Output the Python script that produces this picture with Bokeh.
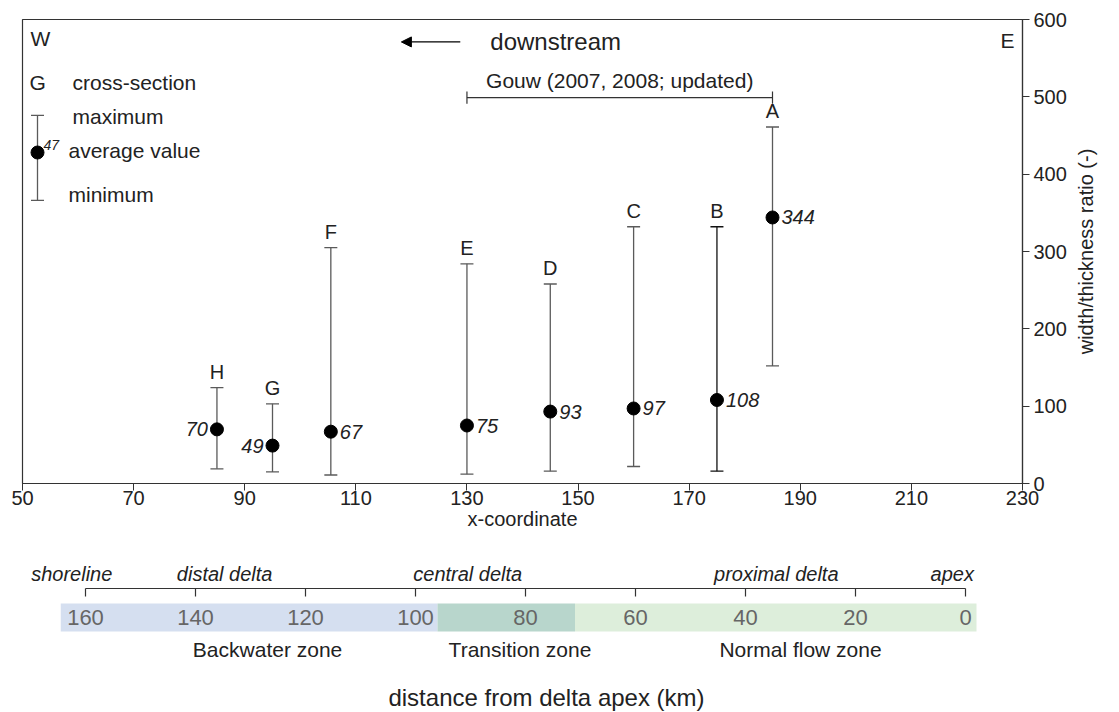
import math
from bokeh.plotting import figure
from bokeh.models import Range1d, FixedTicker, Label, Arrow, NormalHead, ColumnDataSource
from bokeh.layouts import column, row
from bokeh.embed import file_html
from bokeh.resources import INLINE
from bokeh.core.properties import value

# ---- cross-section data: width/thickness ratio per cross-section ----
sections = ["H", "G", "F", "E", "D", "C", "B", "A"]
x_coord = [85, 95, 105.5, 130, 145, 160, 175, 185]
wt_mean = [70, 49, 67, 75, 93, 97, 108, 344]
wt_max = [124, 103, 305, 284, 258, 332, 332, 461]
wt_min = [19, 15, 11, 12, 16, 22, 16, 152]
bar_colors = ["#5a5a5a", "#5a5a5a", "#5a5a5a", "#5a5a5a", "#5a5a5a", "#5a5a5a", "#111111", "#5a5a5a"]
mean_label_left = [True, True, False, False, False, False, False, False]

x_ticks = [50, 70, 90, 110, 130, 150, 170, 190, 210, 230]
y_ticks = [0, 100, 200, 300, 400, 500, 600]

# ---- distance from the delta apex ----
km_ticks = [160, 140, 120, 100, 80, 60, 40, 20, 0]
zone_names = ["Backwater zone", "Transition zone", "Normal flow zone"]
zone_start_km = [164.5, 96, 71]
zone_end_km = [96, 71, -2]
zone_label_km = [126.9, 81, 30]
zone_colors = ["#d5dff0", "#b8d6cc", "#ddeedb"]
reach_names = ["shoreline", "distal delta", "central delta", "proximal delta", "apex"]
reach_km = [162.5, 134.7, 90.5, 34.4, 2.4]

FONT = "Liberation Sans"
INK = "#222222"
AXIS = "#333333"
TOP, FRAME_H, BOTTOM = 19, 464, 60

# ------------------------------------------------------------------
p = figure(frame_width=1000, frame_height=FRAME_H, min_border_left=22, min_border_right=48,
           min_border_top=TOP, min_border_bottom=BOTTOM, x_range=Range1d(50, 230),
           y_range=Range1d(0, 600), y_axis_location="right",
           output_backend="svg", toolbar_location=None)
p.grid.visible = False
p.outline_line_color = AXIS
p.outline_line_width = 1.2
p.background_fill_color = "white"
p.border_fill_color = "white"

for ax in (p.xaxis[0], p.yaxis[0]):
    ax.axis_line_color = AXIS
    ax.axis_line_width = 1.2
    ax.major_tick_line_color = AXIS
    ax.major_tick_out = 7
    ax.major_tick_in = 0
    ax.minor_tick_line_color = None
    ax.major_label_text_font = FONT
    ax.major_label_text_font_size = "20px"
    ax.major_label_text_color = INK
    ax.axis_label_text_font = FONT
    ax.axis_label_text_font_size = "20px"
    ax.axis_label_text_font_style = "normal"
    ax.axis_label_text_color = INK

p.xaxis.ticker = FixedTicker(ticks=x_ticks)
p.yaxis.ticker = FixedTicker(ticks=y_ticks)
p.xaxis.axis_label = "x-coordinate"
p.xaxis.major_label_standoff = 0
p.xaxis.axis_label_standoff = 0
p.yaxis.major_label_standoff = 4

src = ColumnDataSource(dict(x=x_coord, mean=wt_mean, hi=wt_max, lo=wt_min,
                            name=sections, color=bar_colors))

# error bars with caps
p.segment(x0="x", y0="lo", x1="x", y1="hi", source=src, line_color="color", line_width=1.3)
p.scatter(x="x", y="hi", source=src, marker="dash", size=13, line_color="color", line_width=1.3)
p.scatter(x="x", y="lo", source=src, marker="dash", size=13, line_color="color", line_width=1.3)
p.scatter(x="x", y="mean", source=src, marker="circle", size=13, fill_color="black", line_color="black")

# section letters above each bar
p.text(x="x", y="hi", text="name", source=src, text_align="center", text_baseline="bottom",
       y_offset=-5, text_font=value(FONT), text_font_size="20px", text_color=INK)

# italic mean values beside the dots
left_idx = [i for i, f in enumerate(mean_label_left) if f]
right_idx = [i for i, f in enumerate(mean_label_left) if not f]
for idx, align, off in ((left_idx, "right", -9), (right_idx, "left", 9)):
    p.text(x=[x_coord[i] for i in idx], y=[wt_mean[i] for i in idx],
           text=[str(wt_mean[i]) for i in idx], text_align=align, text_baseline="middle",
           x_offset=off, text_font=value(FONT), text_font_size="20px",
           text_font_style="italic", text_color=INK)

# compass labels
p.add_layout(Label(x=50, y=600, x_offset=8, y_offset=-7, text="W", text_baseline="top",
                   text_font=FONT, text_font_size="21px", text_color=INK))
p.add_layout(Label(x=230, y=600, x_offset=-8, y_offset=-9, text="E", text_align="right",
                   text_baseline="top", text_font=FONT, text_font_size="21px", text_color=INK))

# downstream arrow
p.add_layout(Arrow(end=NormalHead(size=10, fill_color="black", line_color="black"),
                   x_start=128.8, y_start=571, x_end=118.2, y_end=571,
                   line_color="black", line_width=1.3))
p.add_layout(Label(x=134.2, y=571, text="downstream", text_baseline="middle",
                   text_font=FONT, text_font_size="24px", text_color=INK))

# bracket for the sections from Gouw
gx0, gx1 = x_coord[sections.index("E")], x_coord[sections.index("A")]
p.segment(x0=[gx0], y0=[499], x1=[gx1], y1=[499], line_color=AXIS, line_width=1.2)
p.segment(x0=[gx0, gx1], y0=[491, 491], x1=[gx0, gx1], y1=[507, 507], line_color=AXIS, line_width=1.2)
p.add_layout(Label(x=(gx0 + gx1) / 2, y=506, text="Gouw (2007, 2008; updated)",
                   text_align="center", text_baseline="bottom",
                   text_font=FONT, text_font_size="21px", text_color=INK))

# key to the symbols
kx = 52.7
p.segment(x0=[kx], y0=[366], x1=[kx], y1=[476], line_color="#5a5a5a", line_width=1.3)
p.scatter(x=[kx, kx], y=[366, 476], marker="dash", size=13, line_color="#5a5a5a", line_width=1.3)
p.scatter(x=[kx], y=[428], marker="circle", size=13, fill_color="black", line_color="black")
key_font = dict(text_font=FONT, text_font_size="21px", text_color=INK, text_baseline="middle")
p.add_layout(Label(x=kx, y=518, x_offset=-8, text="G", **key_font))
p.add_layout(Label(x=kx, y=518, x_offset=35, text="cross-section", **key_font))
p.add_layout(Label(x=kx, y=474, x_offset=35, text="maximum", **key_font))
p.add_layout(Label(x=kx, y=430, x_offset=31, text="average value", **key_font))
p.add_layout(Label(x=kx, y=374, x_offset=31, text="minimum", **key_font))
p.add_layout(Label(x=kx, y=428, x_offset=6, y_offset=8, text="47", text_font=FONT,
                   text_font_size="14px", text_font_style="italic", text_color=INK,
                   text_baseline="middle"))

# ------------------------------------------------------------------
# narrow strip holding the right-hand axis title, reading bottom to top
p3 = figure(frame_width=49, frame_height=FRAME_H, min_border_left=0, min_border_right=0,
            min_border_top=TOP, min_border_bottom=BOTTOM, x_range=Range1d(0, 49),
            y_range=p.y_range, output_backend="svg", toolbar_location=None)
p3.axis.visible = False
p3.grid.visible = False
p3.outline_line_color = None
p3.border_fill_color = "white"
p3.text(x=[15], y=[300], text=["width/thickness ratio (-)"], angle=math.pi / 2,
        text_align="center", text_baseline="middle", text_font=value(FONT),
        text_font_size="20px", text_color=INK)

# ------------------------------------------------------------------
# distance scale below, in km from the apex (same pixel scale, reversed)
PX_PER_KM = 5.5
km_left = 160 + (85 - 22) / PX_PER_KM
km_right = km_left - 1000 / PX_PER_KM
p2 = figure(frame_width=1000, frame_height=712 - 543, min_border_left=22, min_border_right=97,
            min_border_top=0, min_border_bottom=0, x_range=Range1d(km_left, km_right),
            y_range=Range1d(712, 543), output_backend="svg", toolbar_location=None)
p2.axis.visible = False
p2.grid.visible = False
p2.outline_line_color = None
p2.border_fill_color = "white"

# zone bands
p2.quad(left=zone_start_km, right=zone_end_km, top=603, bottom=631,
        fill_color=zone_colors, line_color=None)
p2.text(x=km_ticks, y=[617] * len(km_ticks), text=[str(k) for k in km_ticks],
        text_align="center", text_baseline="middle", text_font=value(FONT),
        text_font_size="22px", text_color="#666666")

# scale line with ticks
p2.segment(x0=[km_ticks[0]], y0=[588], x1=[km_ticks[-1]], y1=[588], line_color=AXIS, line_width=1.2)
p2.segment(x0=km_ticks, y0=[588] * len(km_ticks), x1=km_ticks, y1=[596] * len(km_ticks),
           line_color=AXIS, line_width=1.2)

# reach names
p2.text(x=reach_km, y=[573] * len(reach_km), text=reach_names, text_align="center",
        text_baseline="middle", text_font=value(FONT), text_font_size="20px",
        text_font_style="italic", text_color=INK)

# zone names
p2.text(x=zone_label_km, y=[649] * len(zone_label_km), text=zone_names, text_align="center",
        text_baseline="middle", text_font=value(FONT), text_font_size="21px", text_color=INK)

p2.text(x=[km_left - (546 - 22) / PX_PER_KM], y=[697], text=["distance from delta apex (km)"],
        text_align="center", text_baseline="middle", text_font=value(FONT),
        text_font_size="24px", text_color=INK)

layout = column(row(p, p3, spacing=0), p2, spacing=0)
open("out.html", "w").write(file_html(layout, INLINE))
